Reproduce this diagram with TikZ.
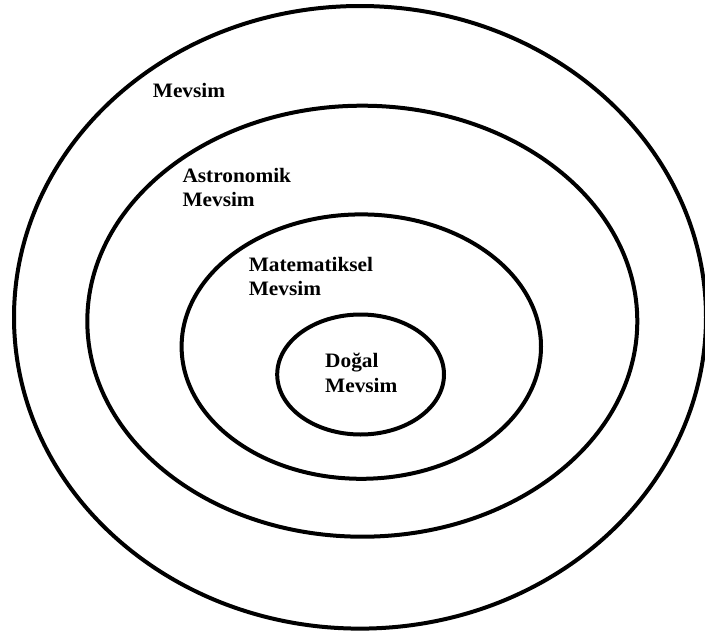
\documentclass[tikz,border=0pt]{standalone}
\usepackage{fontspec}
\setmainfont{Liberation Serif}[FakeStretch=1.04]
\begin{document}
\begin{tikzpicture}[x=1pt,y=-1pt,
  ring/.style={line width=4pt, draw=black},
  lbl/.style={anchor=base west, inner sep=0pt, align=left,
    font=\fontsize{20.5}{24.5}\selectfont\bfseries}]
\clip (0,0) rectangle (705,632);
\fill[white] (0,0) rectangle (705,632);
\draw[ring] (360,317.3) ellipse [x radius=346pt, y radius=311.3pt];
\draw[ring] (362.3,321.2) ellipse [x radius=275pt, y radius=215.5pt];
\draw[ring] (361.3,346.6) ellipse [x radius=179.7pt, y radius=132.2pt];
\draw[ring] (360.6,374.5) ellipse [x radius=83.4pt, y radius=60pt];
\node[lbl] (mevsim) at (152.7,97.5) {Mevsim};
\node[lbl] (astro) at (182.3,206.5) {Astronomik\\Mevsim};
\node[lbl] (mate) at (248.6,295.5) {Matematiksel\\Mevsim};
\node[lbl] (dogal) at (325,392) {Doğal\\Mevsim};
\end{tikzpicture}
\end{document}
